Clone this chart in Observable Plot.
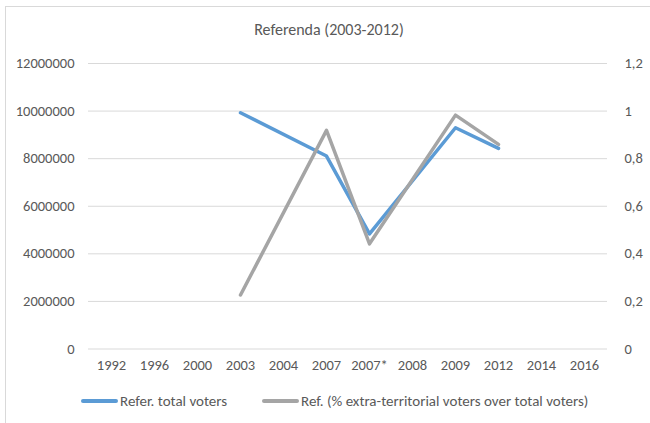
<!DOCTYPE html>
<html>
<head>
<meta charset="utf-8">
<script src="https://cdn.jsdelivr.net/npm/d3@7"></script>
<script src="https://cdn.jsdelivr.net/npm/@observablehq/plot@0.6"></script>
<style>
  html, body { margin: 0; padding: 0; background: #fff; }
  #wrap { position: relative; width: 650px; height: 423px; overflow: hidden; font-family: Carlito, Lato, "Open Sans", sans-serif; color: #595959; }
  #frame { position: absolute; left: 5px; top: 6px; width: 660px; height: 440px; border: 1px solid #d9d9d9; box-sizing: border-box; }
  #title { position: absolute; left: 0; width: 658px; top: 20px; text-align: center; font-size: 16px; line-height: 20px; }
  #chart { position: absolute; left: 0; top: 0; }
  .leg { position: absolute; top: 392px; font-size: 15px; line-height: 18px; white-space: nowrap; display: flex; align-items: center; }
  .sw { display: inline-block; width: 37px; height: 4px; border-radius: 2px; margin-right: 2px; }
</style>
</head>
<body>
<div id="wrap">
  <div id="frame"></div>
  <div id="chart"></div>
  <div id="title">Referenda (2003-2012)</div>
  <div class="leg" style="left:81px"><span class="sw" style="background:#5B9BD5"></span>Refer. total voters</div>
  <div class="leg" style="left:262px"><span class="sw" style="background:#A5A5A5"></span>Ref. (% extra-territorial voters over total voters)</div>
</div>
<script>
const categories = ["1992","1996","2000","2003","2004","2007","2007*","2008","2009","2012","2014","2016"];
const voteYears = ["2003","2007","2007*","2009","2012"];
const totalVoters = [9930000, 8110000, 4840000, 9300000, 8430000];
const extraShare = [0.227, 0.919, 0.442, 0.983, 0.86];
const leftTicks = [0, 2000000, 4000000, 6000000, 8000000, 10000000, 12000000];
const rightTickLabels = ["0", "0,2", "0,4", "0,6", "0,8", "1", "1,2"];

const rows = voteYears.map((y, i) => ({year: y, total: totalVoters[i], share: extraShare[i]}));
const shareToLeft = 1e7; // right axis 1.0 aligns with left 10,000,000

const chart = Plot.plot({
  width: 650,
  height: 423,
  marginLeft: 88,
  marginRight: 43,
  marginTop: 63,
  marginBottom: 74.5,
  style: {fontFamily: "Carlito, Lato, 'Open Sans', sans-serif", fontSize: "14.5px", color: "#595959", background: "transparent"},
  x: {type: "point", domain: categories, padding: 0.5},
  y: {domain: [0, 12000000]},
  marks: [
    Plot.ruleY(leftTicks, {stroke: "#d9d9d9", strokeWidth: 1}),
    Plot.axisY({ticks: leftTicks, tickSize: 0, tickPadding: 14, tickFormat: d => String(d), label: null}),
    Plot.axisY({anchor: "right", ticks: leftTicks, tickSize: 0, tickPadding: 17, textAnchor: "start",
      tickFormat: d => rightTickLabels[leftTicks.indexOf(d)], label: null}),
    Plot.axisX({tickSize: 0, tickPadding: 11, label: null}),
    Plot.line(rows, {x: "year", y: "total", stroke: "#5B9BD5", strokeWidth: 3.5, strokeLinejoin: "round", strokeLinecap: "round"}),
    Plot.line(rows, {x: "year", y: d => d.share * shareToLeft, stroke: "#A5A5A5", strokeWidth: 3.5, strokeLinejoin: "round", strokeLinecap: "round"})
  ]
});
document.getElementById("chart").appendChild(chart);
</script>
</body>
</html>
